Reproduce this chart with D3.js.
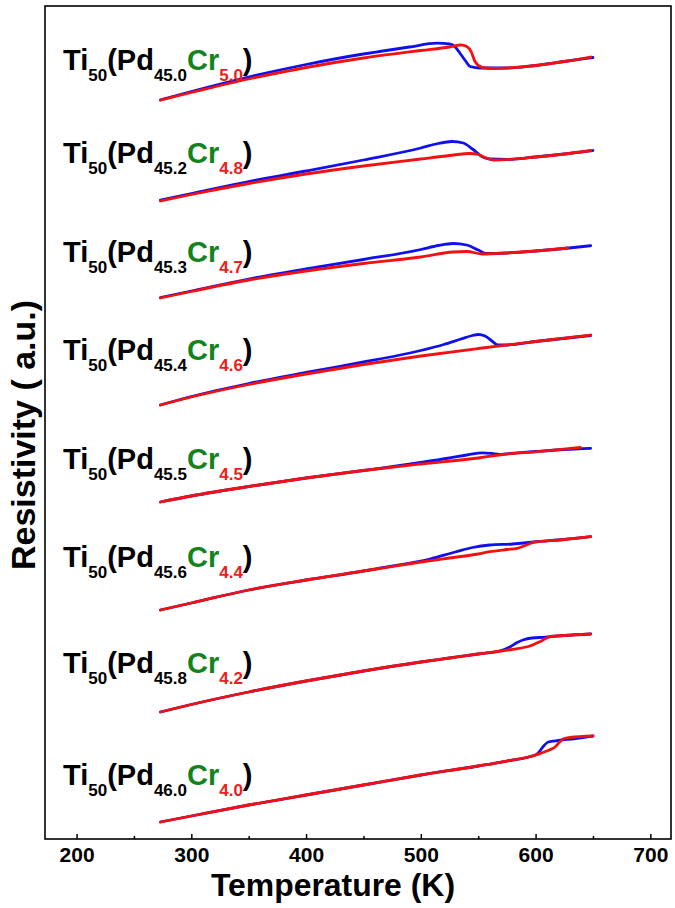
<!DOCTYPE html>
<html>
<head>
<meta charset="utf-8">
<script src="https://cdn.jsdelivr.net/npm/d3@7/dist/d3.min.js"></script>
<style>
  html, body { margin: 0; padding: 0; background: #fff; }
  svg { display: block; }
</style>
</head>
<body>
<svg id="chart" width="675" height="908"></svg>
<script>
// ---------------- DATA ----------------
const xTicks = [200, 300, 400, 500, 600, 700];
const xMinorTicks = [250, 350, 450, 550, 650];
const pdContent = ["45.0", "45.2", "45.3", "45.4", "45.5", "45.6", "45.8", "46.0"];
const crContent = ["5.0", "4.8", "4.7", "4.6", "4.5", "4.4", "4.2", "4.0"];

// [Temperature (K), Resistivity (a.u., offset)] — blue curves
const blueCr50 = [[273,7.39],[300,7.475],[350,7.62],[400,7.745],[450,7.85],[464,7.875],[490,7.92],[514,7.958],[525,7.95],[530,7.92],[534,7.86],[539,7.78],[543,7.725],[552,7.71],[575,7.71],[600,7.735],[625,7.775],[650,7.815]];
const blueCr48 = [[273,6.39],[300,6.455],[350,6.575],[400,6.68],[450,6.79],[500,6.91],[515,6.955],[527,6.975],[537,6.96],[545,6.90],[554,6.82],[560,6.80],[575,6.795],[600,6.82],[625,6.85],[650,6.885]];
const blueCr47 = [[273,5.415],[300,5.48],[350,5.60],[400,5.70],[450,5.795],[500,5.895],[515,5.935],[528,5.955],[540,5.94],[550,5.89],[557,5.855],[575,5.86],[600,5.88],[625,5.905],[648,5.933]];
const blueCr46 = [[273,4.34],[300,4.425],[350,4.555],[400,4.665],[450,4.77],[480,4.835],[500,4.885],[520,4.945],[535,5.0],[545,5.035],[550,5.045],[556,5.03],[562,4.98],[567,4.94],[575,4.94],[600,4.975],[648,5.035]];
const blueCr45 = [[273,3.37],[300,3.43],[350,3.525],[400,3.61],[450,3.685],[470,3.715],[500,3.765],[525,3.81],[540,3.84],[554,3.862],[562,3.855],[568,3.846],[575,3.852],[600,3.875],[625,3.895],[648,3.907]];
const blueCr44 = [[273,2.29],[300,2.36],[350,2.49],[400,2.59],[450,2.68],[464,2.708],[508,2.80],[530,2.87],[545,2.915],[560,2.94],[580,2.95],[590,2.96],[598,2.97],[625,2.995],[648,3.023]];
const blueCr42 = [[273,1.27],[300,1.345],[350,1.47],[400,1.58],[450,1.68],[500,1.77],[525,1.81],[550,1.85],[570,1.885],[578,1.923],[584,1.965],[589,1.99],[597,2.01],[607,2.017],[625,2.035],[648,2.05]];
const blueCr40 = [[273,0.17],[300,0.23],[350,0.34],[400,0.44],[450,0.54],[500,0.64],[550,0.73],[575,0.78],[600,0.84],[603,0.87],[607,0.93],[611,0.97],[620,0.985],[635,1.005],[650,1.03]];

// red curves
const redCr50 = [[273,7.39],[300,7.465],[350,7.60],[400,7.715],[450,7.81],[500,7.885],[525,7.92],[535,7.94],[540,7.925],[544,7.87],[547,7.78],[551,7.73],[556,7.71],[565,7.705],[575,7.71],[600,7.735],[625,7.775],[648,7.82]];
const redCr48 = [[273,6.38],[300,6.445],[350,6.555],[400,6.65],[450,6.73],[500,6.80],[525,6.835],[543,6.855],[550,6.845],[556,6.815],[563,6.79],[575,6.795],[600,6.82],[625,6.85],[648,6.885]];
const redCr47 = [[273,5.41],[300,5.475],[350,5.59],[400,5.68],[450,5.755],[500,5.82],[528,5.87],[540,5.875],[554,5.85],[575,5.86],[600,5.88],[628,5.91]];
const redCr46 = [[273,4.34],[300,4.42],[350,4.545],[400,4.65],[450,4.745],[500,4.83],[550,4.905],[600,4.975],[648,5.04]];
const redCr45 = [[273,3.37],[300,3.43],[350,3.525],[400,3.61],[450,3.685],[500,3.75],[550,3.81],[565,3.835],[575,3.85],[600,3.872],[620,3.893],[639,3.915]];
const redCr44 = [[273,2.29],[300,2.36],[350,2.49],[400,2.59],[450,2.68],[464,2.705],[500,2.77],[525,2.81],[550,2.85],[560,2.873],[575,2.895],[584,2.907],[592,2.94],[598,2.967],[625,2.995],[648,3.023]];
const redCr42 = [[273,1.27],[300,1.345],[350,1.47],[400,1.58],[450,1.68],[500,1.77],[525,1.81],[550,1.85],[580,1.897],[595,1.93],[605,1.98],[613,2.025],[625,2.035],[648,2.05]];
const redCr40 = [[273,0.17],[300,0.23],[350,0.34],[400,0.44],[450,0.54],[500,0.64],[550,0.73],[575,0.78],[600,0.84],[605,0.86],[612,0.89],[617,0.92],[621,0.97],[625,1.005],[630,1.015],[650,1.03]];

const blueSeries = [blueCr50, blueCr48, blueCr47, blueCr46, blueCr45, blueCr44, blueCr42, blueCr40];
const redSeries  = [redCr50, redCr48, redCr47, redCr46, redCr45, redCr44, redCr42, redCr40];

// ---------------- LAYOUT ----------------
const plot = { left: 45, right: 671, top: 6, bottom: 839 };
const labelBaselines = [70, 163, 262, 360, 469, 567, 673, 785];
const labelX = 63;

const svg = d3.select("#chart");
const FONT = "'Liberation Sans', Arial, Helvetica, sans-serif";

const x = d3.scaleLinear().domain([172.5, 718]).range([plot.left, plot.right]);
const y = d3.scaleLinear().domain([0, 8.39]).range([plot.bottom, 0]);

// axis ticks (inward)
const gx = svg.append("g").attr("transform", `translate(0,${plot.bottom})`)
  .call(d3.axisBottom(x).tickValues(xTicks).tickSizeInner(-5).tickSizeOuter(0).tickPadding(8).tickFormat(d3.format("d")));
gx.select(".domain").remove();
gx.selectAll(".tick line").attr("stroke", "#000").attr("stroke-width", 1.5);
gx.selectAll(".tick text").attr("fill", "#000").attr("font-family", FONT)
  .attr("font-weight", "bold").attr("font-size", 21);

const gxm = svg.append("g").attr("transform", `translate(0,${plot.bottom})`)
  .call(d3.axisBottom(x).tickValues(xMinorTicks).tickSizeInner(-3).tickSizeOuter(0).tickFormat(""));
gxm.select(".domain").remove();
gxm.selectAll(".tick line").attr("stroke", "#000").attr("stroke-width", 1.5);

// frame
svg.append("rect")
  .attr("x", plot.left).attr("y", plot.top)
  .attr("width", plot.right - plot.left).attr("height", plot.bottom - plot.top)
  .attr("fill", "none").attr("stroke", "#000").attr("stroke-width", 1.6);

// curves
const line = d3.line().x(d => x(d[0])).y(d => y(d[1])).curve(d3.curveMonotoneX);
const gCurves = svg.append("g");
blueSeries.forEach(s => {
  gCurves.append("path").attr("d", line(s)).attr("fill", "none")
    .attr("stroke", "#1010ee").attr("stroke-width", 2.8)
    .attr("stroke-linejoin", "round").attr("stroke-linecap", "round");
});
redSeries.forEach(s => {
  gCurves.append("path").attr("d", line(s)).attr("fill", "none")
    .attr("stroke", "#f21010").attr("stroke-width", 2.8)
    .attr("stroke-linejoin", "round").attr("stroke-linecap", "round");
});

// composition labels
pdContent.forEach((pd, i) => {
  const t = svg.append("text").attr("x", labelX).attr("y", labelBaselines[i])
    .attr("font-family", FONT).attr("font-weight", "bold").attr("font-size", 29).attr("fill", "#000");
  t.append("tspan").text("Ti");
  t.append("tspan").attr("font-size", 17).attr("dy", 11).text("50");
  t.append("tspan").attr("dy", -11).text("(Pd");
  t.append("tspan").attr("font-size", 17).attr("dy", 11).text(pd);
  t.append("tspan").attr("dy", -11).attr("fill", "#13841b").text("Cr");
  t.append("tspan").attr("font-size", 17).attr("dy", 11).attr("fill", "#ee1c1c").text(crContent[i]);
  t.append("tspan").attr("dy", -11).text(")");
});

// axis titles
svg.append("text")
  .attr("x", 333).attr("y", 896)
  .attr("text-anchor", "middle")
  .attr("font-family", FONT).attr("font-weight", "bold").attr("font-size", 32)
  .attr("textLength", 244).attr("lengthAdjust", "spacingAndGlyphs")
  .text("Temperature (K)");

svg.append("text")
  .attr("transform", "translate(35,435) rotate(-90)")
  .attr("text-anchor", "middle")
  .attr("font-family", FONT).attr("font-weight", "bold").attr("font-size", 34)
  .attr("textLength", 270).attr("lengthAdjust", "spacingAndGlyphs")
  .text("Resistivity ( a.u.)");
</script>
</body>
</html>
